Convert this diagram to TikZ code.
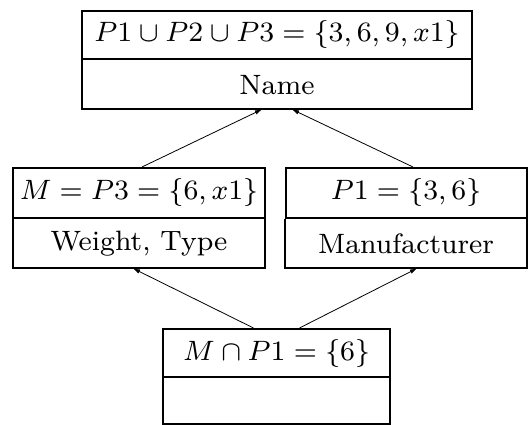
\documentclass[tikz,border=0pt]{standalone}
\usepackage{graphicx}
\usetikzlibrary{arrows.meta,calc}
\newcommand{\celltxt}[1]{\scalebox{3.5}{\footnotesize #1}}
\begin{document}
\begin{tikzpicture}[x=1pt,y=-1pt,
  cell/.style={draw,line width=2pt,inner sep=0pt,anchor=north},
  lowcell/.style={inner sep=0pt,anchor=north},
  frame/.style={line width=2pt,line join=miter},
  link/.style={line width=0.8pt,-{Latex[length=7pt,width=4.5pt]}}]
\useasboundingbox (0,0) rectangle (528,425);
% top box
\node[cell,minimum width=390pt,minimum height=48pt] (tA) at (277,10) {\celltxt{$P1\cup P2\cup P3=\{3,6,9,x1\}$}};
\node[lowcell,minimum width=390pt,minimum height=49pt] (tB) at (tA.south) {\celltxt{Name}};
% middle left
\node[cell,minimum width=252pt,minimum height=50pt] (lA) at (139,167) {\celltxt{$M=P3=\{6,x1\}$}};
\node[lowcell,minimum width=252pt,minimum height=49pt] (lB) at (lA.south) {\celltxt{Weight, Type}};
% middle right
\node[cell,minimum width=241pt,minimum height=50pt] (rA) at (406,167) {\celltxt{$P1=\{3,6\}$}};
\node[lowcell,minimum width=241pt,minimum height=49pt] (rB) at (rA.south) {\celltxt{Manufacturer}};
% bottom
\node[cell,minimum width=227pt,minimum height=48pt] (bA) at (276.5,328) {\celltxt{$M\cap P1=\{6\}$}};
\node[lowcell,minimum width=227pt,minimum height=46pt] (bB) at (bA.south) {};
% lower cell frames (sides and bottom)
\foreach \n in {tB,lB,rB,bB}
  \draw[frame] (\n.north west) -- (\n.south west) -- (\n.south east) -- (\n.north east);
% connectors
\draw[link] ($(lA.north)+(3,0)$) -- ($(tB.south)+(-15,0)$);
\draw[link] ($(rA.north)+(7,0)$) -- ($(tB.south)+(15,0)$);
\draw[link] ($(bA.north)+(-23,0)$) -- ($(lB.south)+(-6,0)$);
\draw[link] ($(bA.north)+(23,0)$) -- ($(rB.south)+(11,0)$);
\end{tikzpicture}
\end{document}
